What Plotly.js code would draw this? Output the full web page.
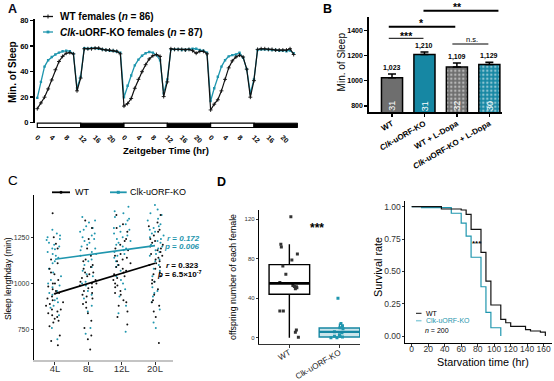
<!DOCTYPE html>
<html><head><meta charset="utf-8">
<script src="https://cdn.plot.ly/plotly-3.0.1.min.js"></script>
<style>html,body{margin:0;padding:0;background:#fff}#chart{width:554px;height:381px}</style>
</head><body><div id="chart"></div>
<script>
// ================= DATA =================
// Panel A : minutes of sleep per hour over 3 LD days
const hours = [0,1,2,3,4,5,6,7,8,9,10,11,12,13,14,15,16,17,18,19,20,21,22,23,
  24,25,26,27,28,29,30,31,32,33,34,35,36,37,38,39,40,41,42,43,44,45,46,47,
  48,49,50,51,52,53,54,55,56,57,58,59,60,61,62,63,64,65,66,67,68,69,70,71];
const wtSleep = [11,15.5,20,26.5,33.5,41.5,48,52,54.5,55,54,25,35,58,58,58,58.5,58.5,57.5,57,57,56.5,56,54,
  13,15,19,27,34,40,45.5,50,52.5,53.5,52,20.5,32,58,57.5,57.5,57.5,57,57.5,56.5,54.5,56,56,54,
  10,14.5,18,25,34,43,48.5,51.5,53,51.5,42,20,33,57.5,58,58,57.5,57.5,57,57,57,57,58,53.5];
const koSleep = [19.5,32,44,49,51.5,53.5,55,56,56.5,56,54,27,36,58.5,58,58.5,58.5,58,57.5,57,56.5,56.5,56,55,
  20,29,37,45,49.5,52.5,54.5,55.5,55,53,49,23,34,57.5,57.5,57.5,57,57,57.5,58,58,57,56.5,55,
  17,27,36,44,49,52,53,53.5,55,51,42,23,34,57,57.5,57.5,57.5,57,57,56.5,56.5,56,56.5,54.5];
const wtLabelA = '<b>WT females (<i>n</i> = 86)</b>';
const koLabelA = '<b><i>Clk</i>-uORF-KO females (<i>n</i> = 87)</b>';

// Panel B : total sleep
const groupsB = ['WT', '<i>Clk</i>-uORF-KO', 'WT + L-Dopa', '<i>Clk</i>-uORF-KO + L-Dopa'];
const sleepMean = [1023, 1210, 1109, 1129];
const sleepErr = [31, 20, 33, 18];
const nFlies = [31, 31, 32, 30];
const sigPairs = [[0, 1, '***'], [0, 2, '*'], [1, 3, '**'], [2, 3, 'n.s.']];

// Panel C : sleep length per day vs photoperiod
const photoperiods = ['4L', '8L', '12L', '20L'];
const wt4L = [1380,1250,1215,1190,1130,1080,1050,1020,1000,985,960,945,930,910,900,880,860,860,840,820,800,790,770,720,690,668,1000,970,950,920,890,850,830,810,1060,1110];
const ko4L = [1290,1270,1250,1235,1220,1200,1185,1170,1150,1120,1110,1080,1040,1000,990,980,960,940,920,900,870,830,760,700,1260,1240,1210,1190,1160,1140,1060,1020,950,910,880];
const wt8L = [1340,1300,1190,1150,1120,1100,1080,1060,1060,1040,1020,1010,1000,990,975,960,940,920,900,870,840,800,760,720,700,645,1130,1090,1050,1030,1000,980,950,930,890,1240];
const ko8L = [1360,1340,1310,1290,1280,1270,1250,1230,1210,1200,1190,1170,1150,1120,1100,1070,1040,1010,990,960,940,920,880,850,760,730,1330,1300,1260,1240,1220,1180,1160,1130,1090,1050,1000];
const wt12L = [1370,1320,1280,1240,1210,1180,1160,1150,1140,1120,1110,1100,1080,1070,1060,1040,1020,1000,980,960,940,910,880,850,820,780,1300,1230,1190,1130,1090,1050,1030,990,950,900];
const ko12L = [1415,1390,1360,1340,1320,1300,1280,1260,1250,1240,1220,1200,1190,1180,1160,1140,1120,1100,1070,1040,1000,970,930,880,840,740,1380,1350,1310,1290,1270,1230,1210,1170,1150,1090,1020];
const wt20L = [1370,1330,1290,1260,1240,1220,1200,1190,1180,1160,1140,1130,1120,1100,1080,1060,1040,1020,1000,970,940,910,880,850,820,680,1310,1280,1230,1210,1170,1150,1110,1090,1050,1010,900];
const ko20L = [1424,1400,1370,1340,1310,1290,1270,1260,1250,1230,1220,1210,1190,1170,1150,1130,1100,1070,1040,1010,980,950,930,900,860,760,1380,1350,1320,1300,1280,1240,1200,1180,1160,1120,1080,960,790];
const wtFit = [946, 1001, 1056, 1110];
const koFit = [1131, 1156, 1180, 1205];

// Panel D : offspring per female
const offspringGroups = ['WT', 'Clk-uORF-KO'];
const wtOffspring = [122.6,94.6,92,84.8,78.7,72.6,64.2,56,53,52,51.5,50.5,49.5,27,27,7.8,5.5,0.4];
const koOffspring = [40,14.5,12,10,9,6,5,3,1.5,1.2,0.8,0,0];
const wtBox = {q1: 44, median: 55, q3: 74, lo: 0, hi: 94.6};
const koBox = {q1: 0.7, median: 5.8, q3: 9.8, lo: 0, hi: 14.5};

// Panel E : starvation survival
const wtTime = [0,36,60,66,72,84,90,96,108,114,120,138,144,156,162];
const wtSurv = [1,0.982,0.974,0.941,0.825,0.647,0.425,0.24,0.129,0.103,0.075,0.049,0.039,0.031,0];
const koTime = [0,12,48,60,66,72,84,90,96,108];
const koSurv = [1,0.992,0.949,0.872,0.773,0.609,0.381,0.183,0.064,0];

// ================= STYLE / LAYOUT HELPERS =================
const W = 554, H = 381;
const X = p => p / W;
const Y = p => 1 - p / H;
const FONT = 'Liberation Sans, Arial, sans-serif';
const TEAL = '#1687a3';
const TEAL_L = '#1f96ae';
const GREY = '#6e6e6e';
const dWT = [0.03,-0.17,-0.16,0.16,0.05,-0.13,-0.07,-0.19,0.07,0.1,0.14,0.15,0.12,-0.19,-0.12,0.14,0.12,0.18];
const dKO = [-0.03,0.03,0.06,0.01,0.07,-0.1,0.05,0,-0.1,0.01,0.06,-0.17,-0.05];

const traces = [];
// ---- A ----
traces.push({type:'scatter', x:hours, y:koSleep, xaxis:'x', yaxis:'y', mode:'lines+markers',
  line:{color:TEAL_L, width:1.3}, marker:{symbol:'square', size:2.4, color:TEAL_L}, showlegend:false});
traces.push({type:'scatter', x:hours, y:wtSleep, xaxis:'x', yaxis:'y', mode:'lines+markers',
  line:{color:'#111', width:1.2}, marker:{symbol:'cross-thin', size:2.8, line:{width:0.9, color:'#111'}}, showlegend:false});
// ---- B ----
const catB = groupsB.map((g, i) => i);
traces.push({type:'bar', x:catB, y:sleepMean, xaxis:'x2', yaxis:'y2', width:0.65, showlegend:false,
  marker:{color:[GREY, TEAL, GREY, TEAL], line:{color:'#000', width:1.5},
    pattern:{shape:['', '', '.', '.'], fgcolor:'#111', size:4, solidity:0.3, fillmode:'overlay'}},
  error_y:{type:'data', symmetric:false, array:sleepErr, arrayminus:sleepErr.map(() => 0), color:'#000', thickness:1.5, width:4}});
// ---- C ----
function jitterSet(lists) {
  const xs = [], ys = [];
  lists.forEach((arr, i) => arr.forEach(v => { xs.push(photoperiods[i]); ys.push(v); }));
  return {xs, ys};
}
const cWT = jitterSet([wt4L, wt8L, wt12L, wt20L]);
const cKO = jitterSet([ko4L, ko8L, ko12L, ko20L]);
[[cKO, TEAL_L], [cWT, '#111']].forEach(([d, col]) => {
  traces.push({type:'box', x:d.xs, y:d.ys, xaxis:'x3', yaxis:'y3', boxpoints:'all', jitter:1, pointpos:0,
    width:0.55, line:{width:0, color:'rgba(0,0,0,0)'}, fillcolor:'rgba(0,0,0,0)',
    marker:{size:2, color:col}, showlegend:false});
});
traces.push({type:'scatter', x:photoperiods, y:koFit, xaxis:'x3', yaxis:'y3', mode:'lines', line:{color:TEAL_L, width:1.6}, showlegend:false});
traces.push({type:'scatter', x:photoperiods, y:wtFit, xaxis:'x3', yaxis:'y3', mode:'lines', line:{color:'#000', width:1.6}, showlegend:false});
// ---- D ----
const boxW = 0.81;
[[wtBox, 0, '#000', 'rgba(255,255,255,0)'], [koBox, 1, TEAL, 'rgba(22,135,163,0.22)']].forEach(([b, xi, col, fill]) => {
  traces.push({type:'box', x:[xi], q1:[b.q1], median:[b.median], q3:[b.q3], lowerfence:[b.lo], upperfence:[b.hi],
    xaxis:'x4', yaxis:'y4', width:boxW, whiskerwidth:0, line:{color:col, width:1.4}, fillcolor:fill, showlegend:false});
});
traces.push({type:'scatter', x:wtOffspring.map((v, i) => 0 + dWT[i]), y:wtOffspring, xaxis:'x4', yaxis:'y4', mode:'markers',
  marker:{symbol:'square', size:3, color:'#333'}, showlegend:false});
traces.push({type:'scatter', x:koOffspring.map((v, i) => 1 + dKO[i]), y:koOffspring, xaxis:'x4', yaxis:'y4', mode:'markers',
  marker:{symbol:'square', size:3, color:TEAL_L}, showlegend:false});
// ---- E ----
traces.push({type:'scatter', x:koTime, y:koSurv, xaxis:'x5', yaxis:'y5', mode:'lines', line:{shape:'hv', color:TEAL_L, width:1.2}, showlegend:false});
traces.push({type:'scatter', x:wtTime, y:wtSurv, xaxis:'x5', yaxis:'y5', mode:'lines', line:{shape:'hv', color:'#111', width:1.2}, showlegend:false});

// ================= AXES =================
const base = {showgrid:false, zeroline:false, color:'#000'};
const ztVals = hours.filter(h => h % 4 === 0);
const layout = {
  width:W, height:H, margin:{l:0, r:0, t:0, b:0}, paper_bgcolor:'#fff', plot_bgcolor:'rgba(0,0,0,0)',
  font:{family:FONT, color:'#000'}, showlegend:false, boxmode:'overlay',
  xaxis:Object.assign({}, base, {domain:[X(35), X(298)], range:[-0.64, 72.2], anchor:'y', tickvals:ztVals,
    ticktext:ztVals.map(h => String(h % 24)), tickangle:45, tickfont:{size:7, weight:'bold'},
    ticks:'outside', ticklen:9, tickcolor:'rgba(0,0,0,0)', ticklabelstandoff:-2, showline:false}),
  yaxis:Object.assign({}, base, {domain:[Y(122.7), Y(18.8)], range:[0, 81.5], anchor:'x', tickvals:[0,20,40,60,80],
    tickfont:{size:7.5, weight:'bold'}, ticks:'outside', ticklen:3, tickwidth:1.5, showline:true, linewidth:2, linecolor:'#000'}),
  xaxis2:Object.assign({}, base, {domain:[X(369.3), X(502)], range:[-0.7, 3.39], anchor:'y2', tickvals:catB, ticktext:groupsB,
    tickangle:-30, tickfont:{size:8, weight:'bold'}, ticks:'outside', ticklen:3, tickwidth:1.5, ticklabelstandoff:-1,
    showline:true, linewidth:2, linecolor:'#000'}),
  yaxis2:Object.assign({}, base, {domain:[Y(112), Y(16.7)], range:[750, 1512], anchor:'x2', tickvals:[800,1000,1200,1400],
    tickfont:{size:7, weight:'bold'}, ticks:'outside', ticklen:3, tickwidth:1.5, showline:true, linewidth:2, linecolor:'#000'}),
  xaxis3:Object.assign({}, base, {domain:[X(34.3), X(173)], type:'category', categoryorder:'array', categoryarray:photoperiods,
    range:[-0.62, 3.54], anchor:'y3', tickfont:{size:9.5, color:'#333'}, ticks:'outside', ticklen:2.5, tickcolor:'#333',
    ticklabelstandoff:-4, showline:true, linecolor:'#c4c4c4', linewidth:2}),
  yaxis3:Object.assign({}, base, {domain:[Y(360), Y(195)], range:[588, 1478], anchor:'x3', tickvals:[750,1000,1250],
    tickfont:{size:7, color:'#333'}, ticks:'outside', ticklen:2.5, tickcolor:'#333', showline:true, linecolor:'#000', linewidth:1}),
  xaxis4:Object.assign({}, base, {domain:[X(259.3), X(360)], range:[-0.6, 1.41], anchor:'y4', tickvals:[0,1], ticktext:offspringGroups,
    tickangle:-30, tickfont:{size:8.2, color:'#222'}, ticks:'outside', ticklen:2.5, tickcolor:'#333', ticklabelstandoff:-3,
    showline:true, linecolor:'#333', linewidth:1}),
  yaxis4:Object.assign({}, base, {domain:[Y(344.3), Y(210)], range:[-6.7, 129.4], anchor:'x4', tickvals:[0,40,80,120],
    tickfont:{size:6, color:'#333'}, ticks:'outside', ticklen:2.5, tickcolor:'#333', showline:true, linecolor:'#000', linewidth:1}),
  xaxis5:Object.assign({}, base, {domain:[X(405), X(551.7)], range:[-8.1, 169.7], anchor:'y5', tickvals:[0,20,40,60,80,100,120,140,160],
    tickfont:{size:8.5, color:'#333'}, ticks:'outside', ticklen:2.5, tickcolor:'#333', ticklabelstandoff:-5,
    showline:true, linecolor:'#000', linewidth:1}),
  yaxis5:Object.assign({}, base, {domain:[Y(343.3), Y(200.7)], range:[-0.056, 1.046], anchor:'x5', tickvals:[0,0.25,0.5,0.75,1],
    tickformat:'.2f', tickfont:{size:8.5, color:'#333'}, ticks:'outside', ticklen:2.5, tickcolor:'#333', ticklabelstandoff:-1,
    showline:true, linecolor:'#000', linewidth:1})
};

// ================= SHAPES =================
const shapes = [];
const line = (x0, y0, x1, y1, col, w, xref, yref) => ({type:'line', x0, y0, x1, y1, xref:xref || 'paper', yref:yref || 'paper', line:{color:col, width:w}});
// A: light/dark bar
[0, 1, 2].forEach(d => {
  shapes.push({type:'rect', xref:'x', yref:'paper', x0:d*24, x1:d*24+12, y0:Y(127.5), y1:Y(123.2), fillcolor:'#fff', line:{color:'#000', width:1.2}});
  shapes.push({type:'rect', xref:'x', yref:'paper', x0:d*24+12, x1:(d === 2 ? 72.1 : d*24+24), y0:Y(127.5), y1:Y(123.2), fillcolor:'#000', line:{color:'#000', width:1}});
});
// A legend
shapes.push(line(X(43), Y(16.5), X(53), Y(16.5), '#111', 1.3));
shapes.push(line(X(48), Y(14.5), X(48), Y(18.5), '#111', 1));
shapes.push(line(X(43), Y(32), X(53), Y(32), TEAL_L, 1.3));
shapes.push({type:'rect', xref:'paper', yref:'paper', x0:X(46.6), x1:X(49.4), y0:Y(33.4), y1:Y(30.6), fillcolor:TEAL_L, line:{width:0}});
// B significance lines
const sigY = [38.3, 26.7, 10.7, 44];
const sigW = [1, 2, 2, 1];
const sigX = [[-0.1, 0.97], [-0.1, 1.95], [0.97, 3.28], [1.86, 2.97]];
sigPairs.forEach((p, k) => shapes.push(line(sigX[k][0], Y(sigY[k]), sigX[k][1], Y(sigY[k]), '#000', sigW[k], 'x2', 'paper')));
// C legend
shapes.push(line(X(52), Y(192.3), X(70), Y(192.3), '#000', 1.8));
shapes.push(line(X(110), Y(192.3), X(126.7), Y(192.3), TEAL_L, 1.8));
shapes.push({type:'rect', xref:'paper', yref:'paper', x0:X(116.8), x1:X(119.8), y0:Y(193.8), y1:Y(190.8), fillcolor:TEAL_L, line:{width:0}});
shapes.push({type:'circle', xref:'paper', yref:'paper', x0:X(59.5), x1:X(62.5), y0:Y(193.8), y1:Y(190.8), fillcolor:'#000', line:{width:0}});
// D thick medians
[[wtBox, 0, '#000', 2.6], [koBox, 1, TEAL, 2.2]].forEach(([b, xi, col, w]) =>
  shapes.push(line(xi - boxW/2, b.median, xi + boxW/2, b.median, col, w, 'x4', 'y4')));
// E legend
shapes.push(line(X(416), Y(313.3), X(421.5), Y(313.3), '#111', 1));
shapes.push(line(X(416), Y(320.7), X(421.5), Y(320.7), '#8fcfdc', 1.5));
layout.shapes = shapes;

// ================= ANNOTATIONS =================
const anns = [];
const A = (text, px, py, o) => anns.push(Object.assign({text, x:X(px), y:Y(py), xref:'paper', yref:'paper', showarrow:false,
  xanchor:'center', yanchor:'middle', font:{size:9, color:'#000', family:FONT}}, o || {}));
// panel letters
A('<b>A</b>', 6, 9.5, {xanchor:'left', font:{size:12.5, color:'#0b0b1e'}});
A('<b>B</b>', 321, 9.5, {xanchor:'left', font:{size:12.5}});
A('C', 6, 180, {xanchor:'left', font:{size:13.5}});
A('<b>D</b>', 214.5, 181.5, {xanchor:'left', font:{size:12.5}});
// A texts
A(wtLabelA, 57.5, 16.5, {xanchor:'left', font:{size:10}});
A(koLabelA, 57.5, 32, {xanchor:'left', font:{size:10}});
A('<b>Min. of Sleep</b>', 12.3, 71.7, {textangle:-90, font:{size:10}});
A('<b>Zeitgeber Time (hr)</b>', 165.5, 150, {font:{size:9.5}});
// B texts
A('Min. of Sleep', 341.7, 61.7, {textangle:-90, font:{size:10}});
sleepMean.forEach((v, i) => {
  anns.push({text:'<b>' + v.toLocaleString('en-US') + '</b>', x:i, y:v + sleepErr[i], xref:'x2', yref:'y2', showarrow:false,
    xanchor:'center', yanchor:'bottom', yshift:0, font:{size:7, color:'#000', family:FONT}});
  anns.push({text:String(nFlies[i]), x:i, y:800, xref:'x2', yref:'y2', showarrow:false, textangle:-90,
    xanchor:'center', yanchor:'middle', font:{size:9, color:'#fff', family:FONT}});
});
const sigTxtX = [0.44, 0.92, 2.02, 2.46];
const sigTxtY = [35.5, 22.5, 7, 39];
sigPairs.forEach((p, k) => anns.push({text:(p[2] === 'n.s.' ? p[2] : '<b>' + p[2] + '</b>'), x:sigTxtX[k], y:Y(sigTxtY[k]), xref:'x2', yref:'paper',
  showarrow:false, xanchor:'center', yanchor:'middle', font:{size:(p[2] === 'n.s.' ? 7.5 : 10.5), color:'#000', family:FONT}}));
// C texts
A('Sleep lengthday (min)', 7.5, 278.5, {textangle:-90, font:{size:8.5}});
A('WT', 72.5, 192.3, {xanchor:'left', font:{size:9}});
A('Clk-uORF-KO', 127.5, 192.3, {xanchor:'left', font:{size:9}});
A('<b><i>r</i> = <i>0.172</i></b>', 202, 238.3, {xanchor:'right', font:{size:8, color:TEAL_L}});
A('<b><i>p</i> = <i>0.006</i></b>', 202, 246.7, {xanchor:'right', font:{size:8, color:TEAL_L}});
A('<b><i>r</i> = 0.323</b>', 201, 265, {xanchor:'right', font:{size:8}});
A('<b><i>p</i> = 6.5×10<sup>-7</sup></b>', 204, 274.3, {xanchor:'right', font:{size:8}});
// D texts
A('offspring number of each female', 232.5, 277.5, {textangle:-90, font:{size:8.8}});
A('<b>***</b>', 316.7, 227.5, {font:{size:12}});
// E texts
A('Survival rate', 377.5, 267.5, {textangle:-90, font:{size:10.8}});
A('Starvation time (hr)', 483.3, 362, {font:{size:10.8}});
A('<b>***</b>', 476.7, 243.5, {font:{size:8}});
A('WT', 423.5, 313.3, {xanchor:'left', font:{size:7}});
A('Clk-uORF-KO', 423.5, 320.7, {xanchor:'left', font:{size:7, color:TEAL_L}});
A('<i>n</i> = 200', 422.5, 330, {xanchor:'left', font:{size:7}});
layout.annotations = anns;

Plotly.newPlot('chart', traces, layout, {staticPlot:true, displayModeBar:false});
</script></body></html>
